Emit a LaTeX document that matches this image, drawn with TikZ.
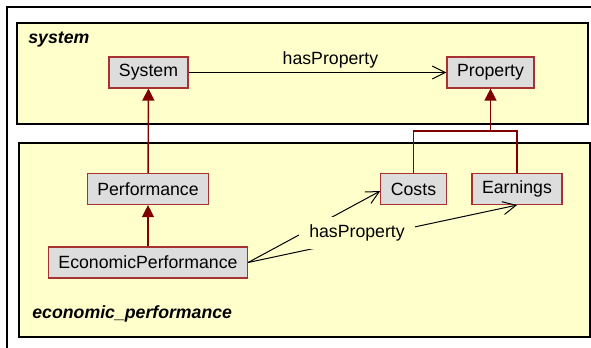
\documentclass[tikz,border=0pt]{standalone}
\usepackage{fontspec}
\setmainfont{Liberation Sans}
\usepackage{tikz}
\usetikzlibrary{arrows.meta, positioning}
\definecolor{pkgyellow}{HTML}{FFFFCC}
\definecolor{clsgray}{HTML}{DDDDDD}
\definecolor{clsred}{HTML}{A83232}
\definecolor{genred}{HTML}{800000}
\tikzset{
  pkgbox/.style={draw=black,fill=pkgyellow,line width=0.6pt},
  pkgname/.style={anchor=west,inner sep=0pt,font=\fontsize{8.85}{10}\selectfont\bfseries\itshape},
  clsnode/.style={draw=clsred,fill=clsgray,line width=0.6pt,minimum height=15.5pt,inner xsep=5pt,inner ysep=0pt,font=\fontsize{8.85}{10}\selectfont},
  genedge/.style={-{Triangle[length=6pt,width=6pt]},genred,line width=0.7pt},
  genline/.style={genred,line width=0.7pt},
  assocedge/.style={-{Straight Barb[length=6.5pt,width=6.5pt]},black,line width=0.5pt},
  assoclabel/.style={font=\fontsize{8.85}{10}\selectfont,inner sep=2pt},
}

\begin{document}
\begin{tikzpicture}[x=0.5pt,y=-0.5pt]
  \useasboundingbox (0,0) rectangle (591,348);
  \draw[line width=0.6pt] (7,352) -- (7,7) -- (595,7);
  % packages
  \draw[pkgbox] (17,23) rectangle (588,124);
  \draw[pkgbox] (19,143) rectangle (590,337);
  \node[pkgname] (lblSystem) at (28,40) {system};
  \node[pkgname] (lblEcon) at (32,314) {economic\_performance};
  % classes
  \node[clsnode] (nSystem) at (148.5,72.5) {System};
  \node[clsnode] (nProperty) at (490.5,72.5) {Property};
  \node[clsnode] (nPerformance) at (148,189) {Performance};
  \node[clsnode] (nEconPerf) at (148,262.5) {EconomicPerformance};
  \node[clsnode] (nCosts) at (413.5,189) {Costs};
  \node[clsnode] (nEarnings) at (517,189) {Earnings};
  % generalisations
  \draw[genedge] (nPerformance) -- (nSystem);
  \draw[genedge] (nEconPerf) -- (nPerformance);
  \coordinate (pjoin) at (nProperty.south |- 0,131);
  \draw[genline] (nCosts.north) |- (pjoin) -| (nEarnings.north);
  \draw[genedge] (pjoin) -- (nProperty.south);
  % associations
  \draw[assocedge] (nSystem) -- node[assoclabel,above,pos=0.55] {hasProperty} (nProperty);
  \draw[assocedge] (nEconPerf.east) -- ([yshift=-1pt]nCosts.west);
  \draw[assocedge] (nEconPerf.east) -- (nEarnings.south);
  \node[assoclabel,fill=pkgyellow,inner xsep=5pt,inner ysep=4pt] (lblHas) at (357,233) {hasProperty};
\end{tikzpicture}
\end{document}
